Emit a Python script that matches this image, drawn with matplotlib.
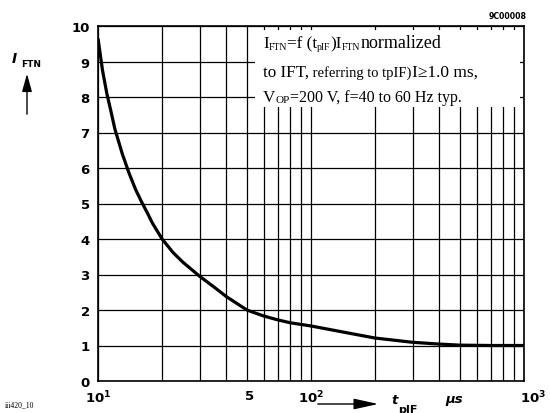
import matplotlib
matplotlib.use("Agg")
import matplotlib.pyplot as plt
from matplotlib.patches import Rectangle, FancyArrowPatch
from matplotlib.ticker import FixedLocator, NullFormatter

# Normalized trigger current I_FTN versus pulse width t_pIF (µs)
t_pif = [10.0, 10.5, 11.0, 11.5, 12.0, 13.0, 14.0, 15.0, 16.0, 17.0, 18.0,
         20.0, 22.5, 25.0, 30.0, 35.0, 40.0, 45.0, 50.0, 60.0, 70.0, 80.0,
         100.0, 150.0, 200.0, 300.0, 400.0, 500.0, 700.0, 1000.0]
i_ftn = [9.65, 8.75, 8.1, 7.6, 7.1, 6.4, 5.85, 5.4, 5.05, 4.75, 4.45,
         4.0, 3.62, 3.35, 2.95, 2.65, 2.38, 2.18, 2.0, 1.83, 1.72, 1.64,
         1.55, 1.35, 1.21, 1.09, 1.04, 1.01, 1.0, 1.0]

y_ticks = [0, 1, 2, 3, 4, 5, 6, 7, 8, 9, 10]
x_grid = [10, 20, 30, 40, 50, 60, 70, 80, 90, 100, 200, 300, 400, 500, 600,
          700, 800, 900, 1000]
x_ticks = [10, 50, 100, 1000]
x_labels = [r"$\mathbf{10^1}$", "5", r"$\mathbf{10^2}$", r"$\mathbf{10^3}$"]
x_label_shift = [0, 3, 0, 9]   # horizontal nudge of each label, pixels

W, H = 550, 414
fig = plt.figure(figsize=(W / 100, H / 100), dpi=100)
ax = fig.add_axes([98 / W, 1 - 382 / H, 426 / W, 355 / H])

ax.set_xscale("log")
ax.set_xlim(10, 1000)
ax.set_ylim(0, 10)
ax.set_axisbelow(True)

ax.xaxis.set_major_locator(FixedLocator(x_grid))
ax.xaxis.set_minor_locator(FixedLocator([]))
ax.xaxis.set_major_formatter(NullFormatter())
ax.set_yticks(y_ticks)
ax.set_yticklabels([str(v) for v in y_ticks], fontweight="bold", fontsize=9.5,
                   family="DejaVu Sans")
ax.tick_params(axis="both", which="both", length=0)
ax.tick_params(axis="y", pad=6)
ax.grid(True, color="black", linewidth=0.9)

for s in ax.spines.values():
    s.set_linewidth(1.2)
    s.set_color("black")

# x tick labels drawn as text under the axis
for xv, lab, dx in zip(x_ticks, x_labels, x_label_shift):
    ax.annotate(lab, xy=(xv, 0), xycoords=("data", "axes fraction"),
                xytext=(dx * 0.72, -5.5), textcoords="offset points",
                ha="center", va="top", fontsize=9.5, fontweight="bold",
                family="DejaVu Sans", annotation_clip=False)

# white panel behind the annotation text
ax.add_patch(Rectangle((0.3685, 0.772), 0.622, 0.217, transform=ax.transAxes,
                       facecolor="white", edgecolor="none", zorder=1))

ax.plot(t_pif, i_ftn, color="black", linewidth=2.3, zorder=3,
        solid_capstyle="butt", solid_joinstyle="round")

# annotation text, placed piece by piece
renderer = fig.canvas.get_renderer()
SERIF = "Liberation Serif"
BIG = 12.3


def text_run(x_px, y_px, pieces):
    x = x_px
    for s, size, dy in pieces:
        t = fig.text(x / W, 1 - (y_px + dy) / H, s, fontsize=size,
                     family=SERIF, ha="left", va="baseline")
        x += t.get_window_extent(renderer).width


text_run(263, 48, [("I", BIG, 0), ("FTN", 7, 1.5), ("=f (t", BIG, 0),
                   ("pIF", 7, 1.5), (")I", BIG, 0), ("FTN", 7, 1.5),
                   ("normalized", 13, 0)])
text_run(263, 77, [("to IFT,", BIG, 0), (" referring to tpIF)", 10.5, 0),
                   ("I\u22651.0 ms,", 12.5, 0)])
text_run(263, 101.5, [("V", BIG, 0), ("OP", 8, 1.5),
                      ("=200 V, f=40 to 60 Hz typ.", 11.5, 0)])

# y-axis quantity with upward arrow
fig.text(12 / W, 1 - 63 / H, "I", fontsize=10, style="italic",
         fontweight="bold", family="DejaVu Sans", va="baseline")
fig.text(21.5 / W, 1 - 67 / H, "FTN", fontsize=6.5, fontweight="bold",
         family="DejaVu Sans", va="baseline")
fig.patches.append(FancyArrowPatch(
    (27 / W, 1 - 118 / H), (27 / W, 1 - 72 / H), transform=fig.transFigure,
    arrowstyle="-|>,head_length=3.6,head_width=1.0", color="black",
    linewidth=1.0, mutation_scale=3))

# x-axis quantity with arrow
fig.patches.append(FancyArrowPatch(
    (315 / W, 1 - 405 / H), (381 / W, 1 - 405 / H), transform=fig.transFigure,
    arrowstyle="-|>,head_length=5,head_width=1.1", color="black",
    linewidth=1.0, mutation_scale=3))
fig.text(391 / W, 1 - 404 / H, "t", fontsize=9.5, style="italic",
         fontweight="bold", family="DejaVu Sans", va="baseline")
fig.text(398 / W, 1 - 413 / H, "pIF", fontsize=8, fontweight="bold",
         family="DejaVu Sans", va="baseline")
fig.text(445 / W, 1 - 403 / H, "\u00b5s", fontsize=9.5, style="italic",
         fontweight="bold", family="DejaVu Sans", va="baseline")

# figure identifiers
fig.text(527 / W, 1 - 19 / H, "9C00008", fontsize=5.6, fontweight="bold",
         family="DejaVu Sans", ha="right", va="baseline")
fig.text(5 / W, 1 - 407 / H, "iii420_10", fontsize=5.5, family=SERIF,
         va="baseline")

fig.savefig("out.png", dpi=100)
